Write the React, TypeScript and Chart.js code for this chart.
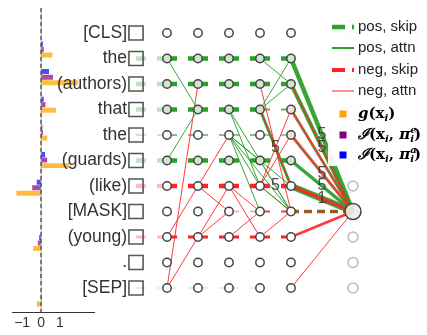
import React, { useEffect, useRef } from 'react';
import { Chart, registerables } from 'chart.js';
Chart.register(...registerables);

// ---------- data ----------
const tokens = ['[CLS]', 'the', '(authors)', 'that', 'the', '(guards)', '(like)', '[MASK]', '(young)', '.', '[SEP]'];
const gScores = [0.02, 0.6, 1.95, 0.79, 0.33, 1.49, -1.3, 0, -0.42, -0.05, -0.22];
const infoEmbed = [0.01, 0.14, 0.63, 0.23, 0.1, 0.32, -0.47, 0, -0.17, -0.02, 0.04];
const infoAttn = [0.005, 0.1, 0.42, 0.14, 0.07, 0.21, -0.23, 0, -0.1, -0.01, 0];
const barTicks = [-1, 0, 1];

const layerIds = [0, 1, 2, 3, 4];
const INPUT = -1;
const OUTPUT = 6;
const TARGET = 7;
const greenRows = [1, 2, 3, 5];
const pinkNodes = [[4, 3], [4, 4]];

// skip edges: [row, fromLayer, toLayer, width, alpha, label]
const posSkip: any[] = [
  [1, -1, 0, 4.5, 0.3], [1, 0, 1, 4.5, 1], [1, 1, 2, 4.5, 1], [1, 2, 3, 4.5, 1], [1, 3, 4, 4.5, 1],
  [2, -1, 0, 4.5, 0.3], [2, 0, 1, 4.5, 1], [2, 1, 2, 4.5, 1], [2, 2, 3, 4.5, 1], [2, 3, 4, 4.5, 1],
  [3, -1, 0, 4.5, 0.3], [3, 0, 1, 4.5, 1], [3, 1, 2, 4.5, 1], [3, 2, 3, 4.5, 1], [3, 3, 4, 2, 0.8],
  [4, -1, 0, 2, 0.25], [4, 0, 1, 2, 0.6], [4, 1, 2, 2, 0.6], [4, 2, 3, 2, 0.6], [4, 3, 4, 2, 0.5],
  [5, -1, 0, 4.5, 0.3], [5, 0, 1, 4.5, 1], [5, 1, 2, 4.5, 1], [5, 2, 3, 4.5, 1], [5, 3, 4, 4.5, 1],
  [7, 4, 6, 3.5, 1],
];
const negSkip: any[] = [
  [6, -1, 0, 4.5, 0.3], [6, 0, 1, 4.5, 1], [6, 1, 2, 4.5, 1], [6, 2, 3, 4.5, 1], [6, 3, 4, 4.5, 1, '5'],
  [7, 2, 3, 1.5, 0.45], [7, 3, 4, 2, 0.9], [7, 4, 6, 1.8, 1],
  [8, -1, 0, 3, 0.3], [8, 0, 1, 3, 1], [8, 1, 2, 3, 1], [8, 2, 3, 3, 1], [8, 3, 4, 3, 1],
  [10, -1, 0, 1.2, 0.25], [10, 0, 1, 1.2, 0.25], [10, 1, 2, 1.2, 0.25], [10, 2, 3, 1.2, 0.25],
];
// attention edges: [fromLayer, fromRow, toLayer, toRow, width, label]
const posAttn: any[] = [
  [0, 1, 1, 3, 1], [0, 5, 1, 3, 1],
  [2, 3, 3, 5, 1], [2, 3, 3, 6, 1], [2, 4, 3, 5, 1], [2, 4, 3, 6, 1], [2, 4, 3, 7, 1],
  [2, 4, 4, 6, 1], [2, 4, 4, 7, 1],
  [3, 1, 4, 2, 1], [3, 3, 4, 1, 1], [3, 3, 4, 2, 1], [3, 3, 4, 6, 3], [3, 5, 4, 7, 1.2], [3, 6, 4, 7, 1],
  [4, 1, 6, 7, 4.5, '5'], [4, 2, 6, 7, 4, '5'], [4, 3, 6, 7, 1], [4, 4, 6, 7, 1, '5'],
  [4, 5, 6, 7, 3.5, '5'], [4, 6, 6, 7, 6.5],
];
const negAttn: any[] = [
  [0, 10, 1, 2, 1], [0, 10, 1, 8, 1], [0, 8, 1, 6, 1],
  [1, 6, 2, 4, 1], [1, 6, 2, 7, 1], [1, 8, 2, 6, 1], [1, 8, 2, 7, 1],
  [2, 6, 3, 7, 1], [2, 6, 3, 8, 1], [2, 8, 3, 7, 1],
  [3, 2, 4, 7, 1, '5'], [3, 3, 4, 6, 1], [3, 6, 4, 3, 1], [3, 6, 4, 4, 1], [3, 6, 4, 7, 1], [3, 8, 4, 7, 1],
  [4, 2, 6, 7, 1.2], [4, 3, 6, 7, 2.8], [4, 4, 6, 7, 2.8], [4, 6, 6, 7, 3.5, '1'],
  [4, 8, 6, 7, 2.5], [4, 10, 6, 7, 1],
];

const green = (a: number) => `rgba(44,160,44,${a})`;
const red = (a: number) => `rgba(255,35,35,${a})`;
const SANS = '"Liberation Sans", Arial, sans-serif';
const SERIF = '"DejaVu Serif", serif';

const zeroLine = {
  id: 'zeroLine',
  afterDatasetsDraw(chart: any) {
    const { ctx, chartArea, scales } = chart;
    const x0 = scales.x.getPixelForValue(0);
    ctx.save();
    ctx.strokeStyle = '#aaa';
    ctx.lineWidth = 1;
    ctx.beginPath(); ctx.moveTo(x0, chartArea.top); ctx.lineTo(x0, chartArea.bottom); ctx.stroke();
    ctx.strokeStyle = '#222';
    ctx.setLineDash([4, 3]);
    ctx.beginPath(); ctx.moveTo(x0, chartArea.top); ctx.lineTo(x0, chartArea.bottom); ctx.stroke();
    ctx.restore();
  },
};

function drawRich(ctx: any, x: number, y: number, parts: any[]) {
  let cx = x;
  for (const p of parts) {
    ctx.font = p.f;
    ctx.fillText(p.t, cx, y + (p.dy || 0));
    if (!p.keep) cx += ctx.measureText(p.t).width;
  }
}

const graphDecor = {
  id: 'graphDecor',
  afterDraw(chart: any) {
    const { ctx, scales } = chart;
    const xs = scales.x, ys = scales.y;
    ctx.save();
    // token labels
    ctx.font = `17.5px ${SANS}`;
    ctx.fillStyle = '#333';
    ctx.textAlign = 'right';
    ctx.textBaseline = 'middle';
    tokens.forEach((t, i) => ctx.fillText(t, xs.getPixelForValue(INPUT) - 9, ys.getPixelForValue(i)));
    // edge labels
    ctx.textAlign = 'center';
    ctx.font = `16px ${SANS}`;
    ctx.fillStyle = 'rgba(50,50,50,0.85)';
    const lab = (l1: number, r1: number, l2: number, r2: number, s: string) =>
      ctx.fillText(s, xs.getPixelForValue((l1 + l2) / 2), ys.getPixelForValue((r1 + r2) / 2));
    [...posSkip, ...negSkip].forEach((e) => e[5] && lab(e[1], e[0], e[2], e[0], e[5]));
    [...posAttn, ...negAttn].forEach((e) => e[5] && lab(e[0], e[1], e[2], e[3], e[5]));
    // legend
    ctx.fillStyle = 'rgba(255,255,255,0.92)';
    ctx.fillRect(328, 14, 99, 152);
    const lx0 = 332, lx1 = 354, tx = 358;
    const line = (y: number, col: string, w: number, dash: number[]) => {
      ctx.strokeStyle = col; ctx.lineWidth = w; ctx.setLineDash(dash);
      ctx.beginPath(); ctx.moveTo(lx0, y); ctx.lineTo(lx1, y); ctx.stroke();
    };
    line(27, green(1), 4.5, [13, 7]);
    line(48, green(1), 2, []);
    line(70, red(1), 4, [13, 7]);
    line(91, red(1), 1, []);
    ctx.setLineDash([]);
    ctx.textAlign = 'left';
    ctx.fillStyle = '#222';
    ctx.font = `15px ${SANS}`;
    ctx.fillText('pos, skip', tx, 27);
    ctx.fillText('pos, attn', tx, 48);
    ctx.fillText('neg, skip', tx, 70);
    ctx.fillText('neg, attn', tx, 91);
    const sq = (y: number, c: string) => { ctx.fillStyle = c; ctx.fillRect(339.5, y - 3.5, 7, 7); };
    sq(114, '#ffa500'); sq(135, '#800080'); sq(155, '#0000ff');
    ctx.fillStyle = '#000';
    const B = `bold 15px ${SERIF}`, BI = `bold italic 15px ${SERIF}`, S = `bold italic 10px ${SERIF}`;
    drawRich(ctx, tx, 114, [
      { t: 'g', f: BI }, { t: '(', f: B }, { t: 'x', f: B }, { t: 'i', f: S, dy: 4 }, { t: ')', f: B },
    ]);
    const info = (y: number, sup: string) => drawRich(ctx, tx, y, [
      { t: '\u2110', f: BI }, { t: '(', f: B }, { t: 'x', f: B }, { t: 'i', f: S, dy: 4 }, { t: ', ', f: B },
      { t: '\u03c0', f: BI }, { t: sup, f: S, dy: -5, keep: true }, { t: 'i', f: S, dy: 4 }, { t: ')', f: B },
    ]);
    info(135, 'e');
    info(155, 'a');
    ctx.restore();
  },
};

export default function App() {
  const leftRef = useRef<HTMLCanvasElement>(null);
  const graphRef = useRef<HTMLCanvasElement>(null);

  useEffect(() => {
    const left = new Chart(leftRef.current as HTMLCanvasElement, {
      type: 'bar',
      data: {
        labels: tokens,
        datasets: [
          { label: 'I(x, πa)', data: infoAttn, backgroundColor: 'rgba(0,0,255,0.7)', categoryPercentage: 0.6, barPercentage: 0.9 },
          { label: 'I(x, πe)', data: infoEmbed, backgroundColor: 'rgba(128,0,128,0.7)', categoryPercentage: 0.6, barPercentage: 0.9 },
          { label: 'g(x)', data: gScores, backgroundColor: 'rgba(255,165,0,0.75)', categoryPercentage: 0.6, barPercentage: 0.9 },
        ] as any,
      },
      options: {
        indexAxis: 'y',
        responsive: false,
        animation: false,
        layout: { padding: { left: 12.7, right: 6, top: 8, bottom: 0 } },
        scales: {
          x: {
            min: -1.5, max: 2.8,
            grid: { display: false, drawTicks: false },
            border: { display: true, color: '#333' },
            afterBuildTicks: (s: any) => { s.ticks = barTicks.map((v) => ({ value: v })); },
            ticks: {
              color: '#333',
              padding: 3,
              font: { size: 14, family: SANS },
              callback: (v: any) => (v < 0 ? '\u2212' + Math.abs(v) : String(v)),
            },
          },
          y: { display: false },
        },
        plugins: { legend: { display: false }, tooltip: { enabled: false } },
      } as any,
      plugins: [zeroLine],
    });

    const datasets: any[] = [];
    // nodes
    const nodePts: any[] = [];
    const nodeFill: string[] = [];
    layerIds.forEach((l) => tokens.forEach((_, r) => {
      nodePts.push({ x: l, y: r });
      const pink = pinkNodes.some((p) => p[0] === l && p[1] === r);
      nodeFill.push(pink ? '#f6dede' : greenRows.includes(r) ? '#cfe7cf' : '#ffffff');
    }));
    datasets.push({ data: nodePts, pointRadius: 4.2, pointBorderWidth: 1.5, pointBorderColor: '#444', pointBackgroundColor: nodeFill, order: -100, clip: false });
    datasets.push({
      data: tokens.map((_, r) => ({ x: OUTPUT, y: r })).filter((p) => p.y !== TARGET),
      pointRadius: 5, pointBorderWidth: 1.5, pointBorderColor: '#bbb', pointBackgroundColor: '#fff', order: -100, clip: false,
    });
    datasets.push({ data: [{ x: OUTPUT, y: TARGET }], pointRadius: 8, pointBorderWidth: 1.5, pointBorderColor: '#444', pointBackgroundColor: 'rgba(235,240,235,0.9)', order: -101, clip: false });
    datasets.push({
      data: tokens.map((_, r) => ({ x: INPUT, y: r })),
      pointStyle: 'rect', pointRadius: 10, pointBorderWidth: 1.6, pointBorderColor: '#555', pointBackgroundColor: 'transparent', order: -99, clip: false,
    });
    const edge = (x1: number, y1: number, x2: number, y2: number, color: string, w: number, dash: number[]) => datasets.push({
      data: [{ x: x1, y: y1 }, { x: x2, y: y2 }], showLine: true, borderColor: color, borderWidth: w, borderDash: dash,
      pointRadius: 0, pointHoverRadius: 0, clip: false, order: 10 + w * 10,
    });
    posSkip.forEach((e) => edge(e[1], e[0], e[2], e[0], green(e[4]), e[3], e[2] - e[1] > 1 ? [8, 5] : [10, 11]));
    negSkip.forEach((e) => edge(e[1], e[0], e[2], e[0], red(e[4]), e[3], e[2] - e[1] > 1 ? [8, 5] : [10, 11]));
    posAttn.forEach((e) => edge(e[0], e[1], e[2], e[3], green(0.95), e[4], []));
    negAttn.forEach((e) => edge(e[0], e[1], e[2], e[3], red(0.9), e[4], []));

    const graph = new Chart(graphRef.current as HTMLCanvasElement, {
      type: 'scatter',
      data: { datasets },
      options: {
        responsive: false,
        animation: false,
        layout: { padding: { left: 136, right: 74, top: 33, bottom: 47 } },
        scales: {
          x: { type: 'linear', min: INPUT, max: OUTPUT, display: false },
          y: { type: 'linear', min: 0, max: tokens.length - 1, reverse: true, display: false },
        },
        plugins: { legend: { display: false }, tooltip: { enabled: false } },
      } as any,
      plugins: [graphDecor],
    });

    return () => { left.destroy(); graph.destroy(); };
  }, []);

  return (
    <div style={{ position: 'fixed', left: 0, top: 0, width: 427, height: 335, background: '#fff' }}>
      <canvas ref={leftRef} width={100} height={335} style={{ position: 'absolute', left: 0, top: 0, width: 100, height: 335 }} />
      <canvas ref={graphRef} width={427} height={335} style={{ position: 'absolute', left: 0, top: 0, width: 427, height: 335 }} />
    </div>
  );
}
